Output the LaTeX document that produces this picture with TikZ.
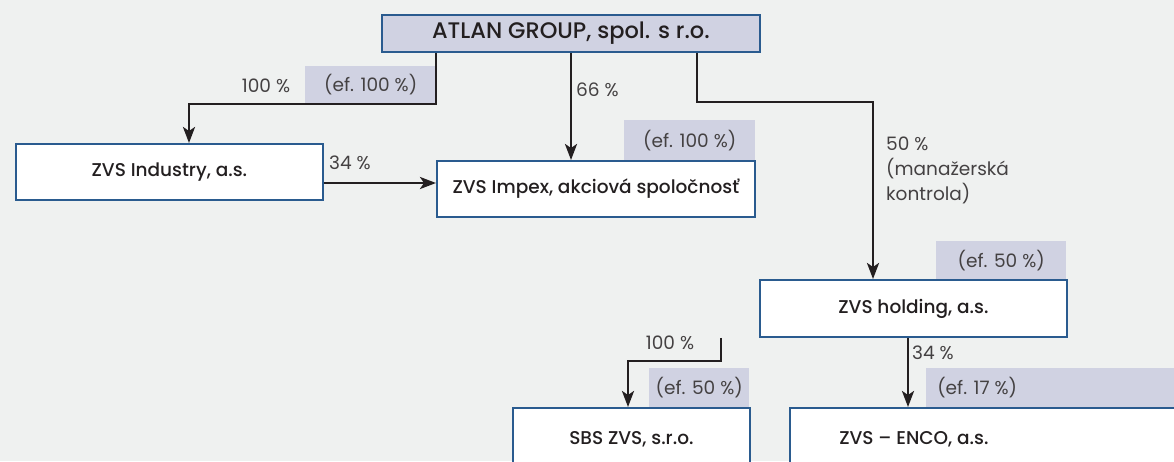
\documentclass[tikz,border=0pt]{standalone}
\usepackage{fontspec}
\setmainfont{Poppins}[BoldFont=* Medium]
\usetikzlibrary{arrows.meta,calc}
\definecolor{bg}{HTML}{EFF1F0}
\definecolor{tagc}{HTML}{D0D2E2}
\definecolor{bord}{HTML}{2A5B8F}
\definecolor{ink}{HTML}{231F20}
\tikzset{
  box/.style={draw=bord, line width=1.8pt, fill=white, inner sep=0pt, anchor=north west, text=ink, font=\fontsize{18.5}{22}\selectfont\bfseries},
  tag/.style={fill=tagc, inner sep=0pt, anchor=north west, text=ink!85, font=\fontsize{18.5}{22}\selectfont},
  lbl/.style={text=ink!85, font=\fontsize{18.5}{22}\selectfont, inner sep=0pt},
  arr/.style={draw=ink, line width=2.6pt, -{Stealth[length=16pt, width=12pt, inset=4pt]}},
}
\begin{document}
\begin{tikzpicture}[x=1pt,y=-1pt]
\clip (0,0) rectangle (1174,461);
\fill[bg] (0,0) rectangle (1174,461);
% tags
\node[tag, minimum width=131, minimum height=37] (t1) at (305,66) {(ef. 100 \%)};
\node[tag, minimum width=131, minimum height=40] (t2) at (624,120) {(ef. 100 \%)};
\node[tag, minimum width=130, minimum height=38] (t3) at (936,241) {(ef. 50 \%)};
\node[tag, minimum width=100, minimum height=39] (t4) at (649,368) {(ef. 50 \%)};
\node[tag, minimum width=270, minimum height=39] (t5) at (926,368) {\hspace*{-168pt}(ef. 17 \%)};
% boxes
\node[box, fill=tagc, minimum width=378, minimum height=37, font=\fontsize{22.5}{25}\selectfont\bfseries] (atlan) at (381,14) {ATLAN GROUP, spol. s r.o.};
\node[box, minimum width=307, minimum height=56] (ind) at (15,143) {ZVS Industry, a.s.};
\node[box, minimum width=318, minimum height=56] (imp) at (436,160) {ZVS Impex, akciová spoločnosť};
\node[box, minimum width=307, minimum height=57] (hold) at (759,279) {ZVS holding, a.s.};
\node[box, minimum width=237, minimum height=70] (sbs) at (512,407) {\raisebox{9pt}{SBS ZVS, s.r.o.}};
\node[box, minimum width=420, minimum height=70] (enco) at (789,407) {\hspace*{-172pt}\raisebox{9pt}{ZVS -- ENCO, a.s.}};
% connectors
\draw[arr] (atlan.south -| 436,0) |- (189,104) -- (ind.north -| 189,0);
\draw[arr] (atlan.south -| 571,0) -- (imp.north -| 571,0);
\draw[arr] (ind.east |- 0,183) -- (imp.west |- 0,183);
\draw[arr] (atlan.south -| 697,0) |- (873,102) -- (hold.north -| 873,0);
\draw[arr] (hold.south -| 721,0) |- (628,361) -- (sbs.north -| 628,0);
\draw[arr] (hold.south -| 908,0) -- (enco.north -| 908,0);
% labels
\node[lbl] (l1) at (266,86) {100 \%};
\node[lbl, anchor=west] (l2) at (576,90) {66 \%};
\node[lbl, anchor=west] (l3) at (329,163) {34 \%};
\node[lbl, anchor=north west, align=left, font=\fontsize{18.5}{25}\selectfont] (l4) at (886,137) {50 \%\\(manažerská\\kontrola)};
\node[lbl] (l5) at (670,343) {100 \%};
\node[lbl, anchor=west] (l6) at (912,353) {34 \%};
\end{tikzpicture}
\end{document}
